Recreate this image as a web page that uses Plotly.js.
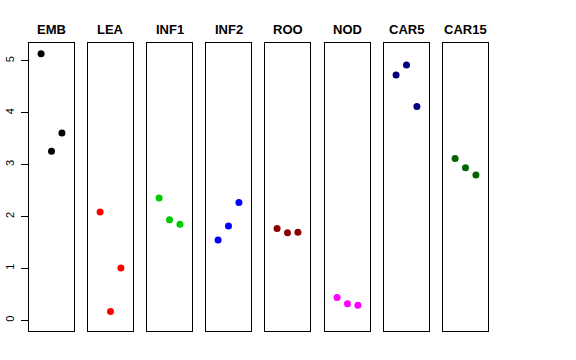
<!DOCTYPE html>
<html>
<head>
<meta charset="utf-8">
<script src="https://cdn.plot.ly/plotly-3.0.1.min.js"></script>
<style>html,body{margin:0;padding:0;background:#fff}#plot{width:576px;height:360px}</style>
</head>
<body>
<div id="plot"></div>
<script>
const panels = ["EMB", "LEA", "INF1", "INF2", "ROO", "NOD", "CAR5", "CAR15"];
const colors = ["#000000", "#FF0000", "#00CD00", "#0000FF", "#8B0000", "#FF00FF", "#000080", "#006400"];
const xIndex = [1, 2, 3];
const EMB = [5.14, 3.26, 3.61];
const LEA = [2.09, 0.17, 1.01];
const INF1 = [2.36, 1.94, 1.85];
const INF2 = [1.55, 1.82, 2.27];
const ROO = [1.77, 1.69, 1.70];
const NOD = [0.44, 0.32, 0.29];
const CAR5 = [4.73, 4.92, 4.12];
const CAR15 = [3.12, 2.94, 2.80];
const yTicks = [0, 1, 2, 3, 4, 5];
const seriesValues = [EMB, LEA, INF1, INF2, ROO, NOD, CAR5, CAR15];

const W = 576, H = 360;
const panelLeft = [29, 88, 147, 206, 265, 325, 384, 443];
const panelW = 45;
const yDom = [(H - 331) / H, (H - 43) / H];
const yRange = [-0.206, 5.346];
const xRange = [-0.16, 4.16];

const data = [];
const layout = {
  width: W, height: H,
  margin: {l: 0, r: 0, t: 0, b: 0},
  paper_bgcolor: "#fff", plot_bgcolor: "#fff",
  showlegend: false,
  font: {family: "Liberation Sans, Arial, sans-serif", color: "#000"},
  annotations: []
};

panels.forEach((name, i) => {
  const s = i === 0 ? "" : String(i + 1);
  data.push({
    type: "scatter", mode: "markers",
    x: xIndex, y: seriesValues[i],
    xaxis: "x" + s, yaxis: "y" + s,
    marker: {color: colors[i], size: 7},
    hoverinfo: "skip"
  });
  const d0 = panelLeft[i] / W, d1 = (panelLeft[i] + panelW) / W;
  layout["xaxis" + s] = {
    domain: [d0, d1], range: xRange, anchor: "y" + s,
    showgrid: false, zeroline: false, showticklabels: false, ticks: "",
    showline: true, mirror: true, linecolor: "#000", linewidth: 1
  };
  layout["yaxis" + s] = {
    domain: yDom, range: yRange, anchor: "x" + s,
    showgrid: false, zeroline: false,
    showline: true, mirror: true, linecolor: "#000", linewidth: 1,
    showticklabels: i === 0, ticks: i === 0 ? "outside" : "",
    tickvals: yTicks, ticktext: yTicks.map(String),
    ticklen: 7, tickcolor: "#000", tickangle: -90,
    ticklabelstandoff: 3,
    tickfont: {size: 11, color: "#000"}
  };
  layout.annotations.push({
    text: "<b>" + name + "</b>", showarrow: false,
    xref: "paper", yref: "paper",
    x: (d0 + d1) / 2, y: (H - 29) / H,
    xanchor: "center", yanchor: "middle",
    font: {size: 13, color: "#000"}
  });
});

Plotly.newPlot("plot", data, layout, {displayModeBar: false, staticPlot: true});
</script>
</body>
</html>
